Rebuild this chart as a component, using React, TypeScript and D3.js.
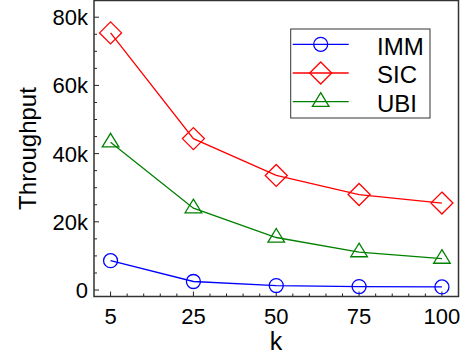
import React from "react"
import * as d3 from "d3"

const kValues = ["5", "25", "50", "75", "100"]
const immValues = [8600, 2500, 1300, 1000, 900]
const sicValues = [75400, 44400, 33600, 28000, 25500]
const ubiValues = [43300, 24000, 15400, 11100, 9200]
const yTicks = [0, 20000, 40000, 60000, 80000]
const seriesNames = ["IMM", "SIC", "UBI"]

const width = 465
const height = 358
const frame = { left: 94, right: 458.5, top: 0.5, bottom: 296.5 }

const colours = ["#0000ff", "#ff0000", "#008000"]
const font = "'Liberation Sans', Arial, sans-serif"

function Marker({ kind, x, y, colour }: { kind: number; x: number; y: number; colour: string }) {
  if (kind === 0) {
    return <circle cx={x} cy={y} r={7} fill="none" stroke={colour} strokeWidth={1.3} />
  }
  if (kind === 1) {
    const s = 11
    return (
      <path
        d={`M${x},${y - s}L${x + s},${y}L${x},${y + s}L${x - s},${y}Z`}
        fill="none"
        stroke={colour}
        strokeWidth={1.3}
      />
    )
  }
  return (
    <path
      d={`M${x},${y - 9}L${x + 8.3},${y + 4.6}L${x - 8.3},${y + 4.6}Z`}
      fill="none"
      stroke={colour}
      strokeWidth={1.3}
    />
  )
}

export default function App() {
  const x = d3
    .scalePoint<string>()
    .domain(kValues)
    .range([frame.left, frame.right])
    .padding(0.2)
  const y = d3.scaleLinear().domain([-1900, 84900]).range([frame.bottom, frame.top])
  const step = x.step()

  const series = [immValues, sicValues, ubiValues]
  const line = d3
    .line<number>()
    .x((d, i) => x(kValues[i]) as number)
    .y(d => y(d))

  // minor ticks: every 5k on y, fifths of a step on x
  const yMinor = d3.range(0, 85000, 5000).filter(v => v % 20000 !== 0)
  const xMinor: number[] = []
  kValues.forEach(k => {
    for (let j = 1; j < 5; j++) xMinor.push((x(k) as number) + (step * j) / 5)
  })

  const fmt = (v: number) => (v === 0 ? "0" : `${v / 1000}k`)

  const legend = { x: 290.7, y: 29, w: 139.3, h: 89, rows: [44.3, 73, 101.7] }

  return (
    <svg
      width={width}
      height={height}
      style={{ position: "absolute", left: 0, top: 0, background: "#fff" }}
      fontFamily={font}
    >
      <rect x={0} y={0} width={width} height={height} fill="#fff" />

      {/* tick marks */}
      {yTicks.map(t => (
        <line key={t} x1={frame.left} x2={frame.left + 5} y1={y(t)} y2={y(t)} stroke="#222" strokeWidth={1} />
      ))}
      {yMinor.map(t => (
        <line key={t} x1={frame.left} x2={frame.left + 3} y1={y(t)} y2={y(t)} stroke="#222" strokeWidth={1} />
      ))}
      {kValues.map(k => (
        <line key={k} x1={x(k)} x2={x(k)} y1={frame.bottom} y2={frame.bottom - 5} stroke="#222" strokeWidth={1} />
      ))}
      {xMinor
        .filter(v => v > frame.left + 1 && v < frame.right - 1)
        .map(v => (
          <line key={v} x1={v} x2={v} y1={frame.bottom} y2={frame.bottom - 3} stroke="#222" strokeWidth={1} />
        ))}

      {/* tick labels */}
      {yTicks.map(t => (
        <text key={t} x={88} y={y(t) + 8} textAnchor="end" fontSize={22} fill="#000">
          {fmt(t)}
        </text>
      ))}
      {kValues.map(k => (
        <text key={k} x={x(k)} y={324} textAnchor="middle" fontSize={22} fill="#000">
          {k}
        </text>
      ))}

      {/* axis labels */}
      <text x={276} y={350} textAnchor="middle" fontSize={25} fill="#000">
        k
      </text>
      <text
        transform={`translate(36,${(frame.top + frame.bottom) / 2}) rotate(-90)`}
        textAnchor="middle"
        fontSize={24}
        fill="#000"
      >
        Throughput
      </text>

      {/* series */}
      {series.map((vals, si) => (
        <g key={si}>
          <path d={line(vals) || ""} fill="none" stroke={colours[si]} strokeWidth={1.3} />
          {vals.map((v, i) => (
            <Marker key={i} kind={si} x={x(kValues[i]) as number} y={y(v)} colour={colours[si]} />
          ))}
        </g>
      ))}

      {/* legend */}
      <rect x={legend.x} y={legend.y} width={legend.w} height={legend.h} fill="#fff" stroke="#333" strokeWidth={1} />
      {seriesNames.map((name, si) => (
        <g key={name}>
          <line
            x1={292.7}
            x2={348.7}
            y1={legend.rows[si]}
            y2={legend.rows[si]}
            stroke={colours[si]}
            strokeWidth={1.3}
          />
          <Marker kind={si} x={320.7} y={legend.rows[si]} colour={colours[si]} />
          <text x={377} y={legend.rows[si] + 10.3} fontSize={24} fill="#000">
            {name}
          </text>
        </g>
      ))}

      {/* frame */}
      <rect
        x={frame.left}
        y={frame.top}
        width={frame.right - frame.left}
        height={frame.bottom - frame.top}
        fill="none"
        stroke="#333"
        strokeWidth={1.5}
      />
    </svg>
  )
}
